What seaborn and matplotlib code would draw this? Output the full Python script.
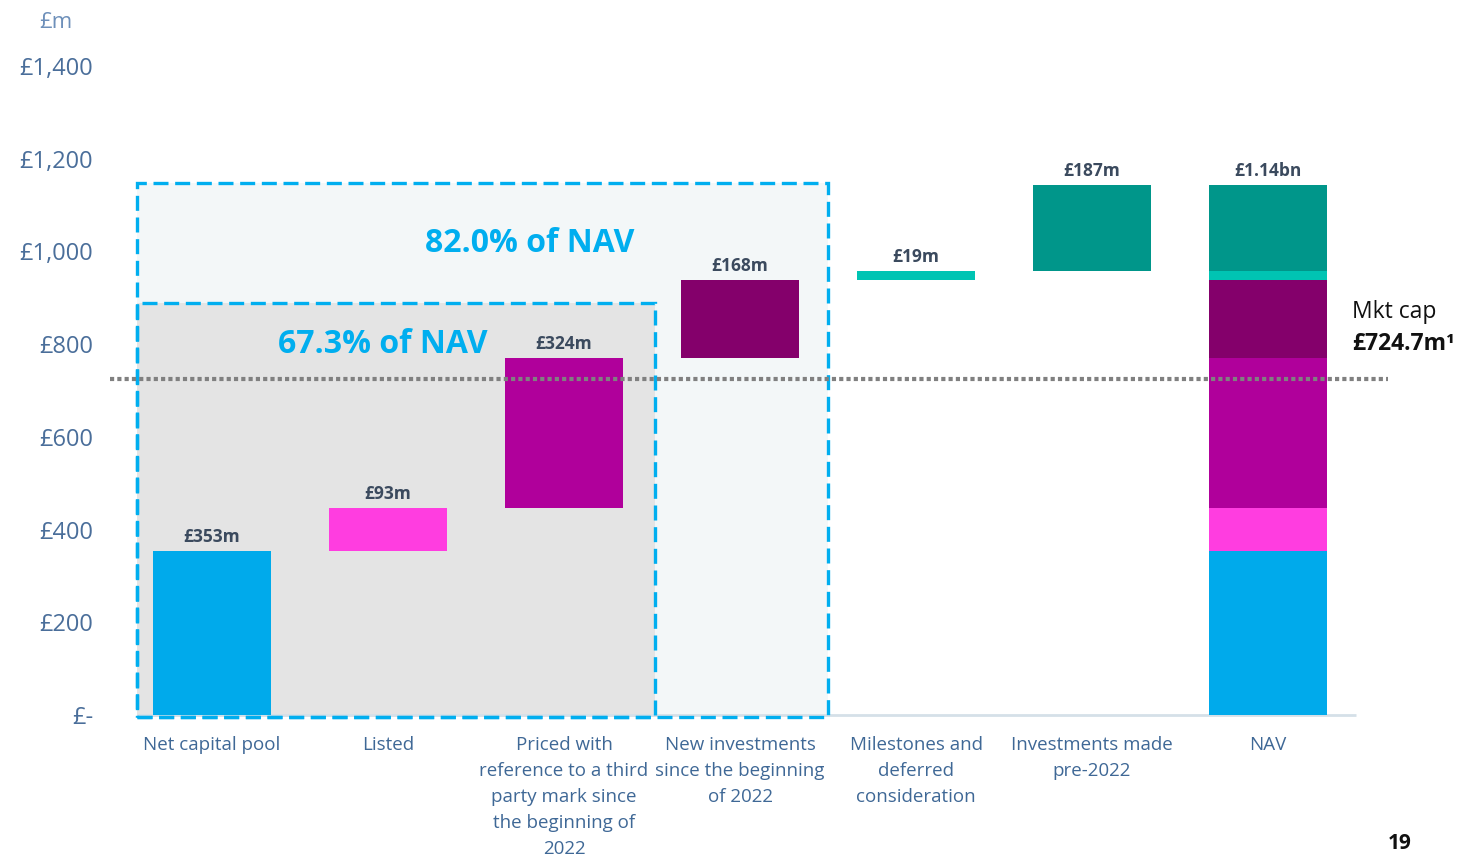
import matplotlib
matplotlib.use("Agg")
import matplotlib.pyplot as plt
from matplotlib.patches import Rectangle
import seaborn as sns

# Waterfall components (£m)
categories = [
    "Net capital pool",
    "Listed",
    "Priced with\nreference to a third\nparty mark since\nthe beginning of\n2022",
    "New investments\nsince the beginning\nof 2022",
    "Milestones and\ndeferred\nconsideration",
    "Investments made\npre-2022",
    "NAV",
]
step_values = [353, 93, 324, 168, 19, 187]
step_labels = ["£353m", "£93m", "£324m", "£168m", "£19m", "£187m"]
nav_label = "£1.14bn"
bar_colors = ["#00AAEB", "#FF3DE0", "#B0009B", "#84006B", "#00C4B3", "#00968A"]

market_cap = 724.7
market_cap_label = "£724.7m¹"
box_labels = ["82.0% of NAV", "67.3% of NAV"]
y_ticks = [0, 200, 400, 600, 800, 1000, 1200, 1400]
y_tick_labels = ["£-", "£200", "£400", "£600", "£800", "£1,000", "£1,200", "£1,400"]

sns.set_theme(style="white")
plt.rcParams["font.family"] = ["Open Sans", "DejaVu Sans"]

W, H = 1460, 855
fig = plt.figure(figsize=(W / 100, H / 100), dpi=100)
ax = fig.add_axes([110 / W, (H - 728) / H, (1400 - 110) / W, (728 - 10) / H])

# running totals for the floating bars
starts = []
total = 0
for v in step_values:
    starts.append(total)
    total += v

bar_w = 0.67
for cat, start, v, c in zip(categories[:-1], starts, step_values, bar_colors):
    sns.barplot(x=[cat], y=[v], order=categories, bottom=start, color=c,
                saturation=1, width=bar_w, errorbar=None, ax=ax, zorder=3,
                linewidth=0)
# stacked NAV column
for start, v, c in zip(starts, step_values, bar_colors):
    sns.barplot(x=[categories[-1]], y=[v], order=categories, bottom=start, color=c,
                saturation=1, width=bar_w, errorbar=None, ax=ax, zorder=3,
                linewidth=0)

x_lo, x_hi = (110 - 212) / 176, (1400 - 212) / 176
y_lo, y_hi = -(728 - 715) / 0.4636, (715 - 10) / 0.4636
ax.set_xlim(x_lo, x_hi)
ax.set_ylim(y_lo, y_hi)

# highlighted groups of the portfolio
box_left = -0.426
outer = Rectangle((box_left, -4), 3.5 - box_left, 1147 + 4, facecolor="#F3F7F8",
                  edgecolor="none", zorder=1)
inner = Rectangle((box_left, -4), 2.517 - box_left, 889 + 4, facecolor="#E4E4E4",
                  edgecolor="none", zorder=1.5)
ax.add_patch(outer)
ax.add_patch(inner)
for r in (outer, inner):
    ax.add_patch(Rectangle(r.get_xy(), r.get_width(), r.get_height(), facecolor="none",
                           edgecolor="#00AEEF", linewidth=2.4, linestyle=(0, (4.5, 2)),
                           zorder=4))

# x axis baseline
ax.plot([box_left, 6.5], [0, 0], color="#D5E0E8", linewidth=2, zorder=2,
        solid_capstyle="butt")

# market cap reference line
ax.plot([(110 - 212) / 176, (1388 - 212) / 176], [market_cap, market_cap],
        color="#808080", linewidth=3, linestyle=(0, (1, 0.75)), zorder=5,
        clip_on=False)

ax.text(1.807, 1016, box_labels[0], color="#00AEEF", fontsize=23, fontweight="bold",
        ha="center", va="center", zorder=6)
ax.text(0.97, 800, box_labels[1], color="#00AEEF", fontsize=23, fontweight="bold",
        ha="center", va="center", zorder=6)

value_color = "#3B4A5E"
for i, (start, v, lab) in enumerate(zip(starts, step_values, step_labels)):
    ax.annotate(lab, (i, start + v), xytext=(0, 10), textcoords="offset points",
                ha="center", va="center", fontsize=12.5, fontweight="bold",
                color=value_color, zorder=6)
ax.annotate(nav_label, (len(categories) - 1, total), xytext=(0, 10),
            textcoords="offset points", ha="center", va="center", fontsize=12.5,
            fontweight="bold", color=value_color, zorder=6)

ax.text((1352 - 212) / 176, (715 - 312) / 0.4636, "Mkt cap", fontsize=16.5,
        color="#111111", ha="left", va="center")
ax.text((1352 - 212) / 176, (715 - 344) / 0.4636, market_cap_label, fontsize=16.5,
        fontweight="bold", color="#111111", ha="left", va="center")

ax.set_yticks(y_ticks)
ax.set_yticklabels(y_tick_labels, fontsize=17, color="#4A6E9A")
ax.set_xticks(range(len(categories)))
ax.set_xticklabels(categories, fontsize=13.5, color="#3F6896", linespacing=1.57,
                   va="top")
ax.tick_params(axis="y", length=0, pad=12)
ax.tick_params(axis="x", length=0, pad=5.5)
ax.set_xlabel("")
ax.set_ylabel("")
for s in ax.spines.values():
    s.set_visible(False)
ax.grid(False)

fig.text(56 / W, 1 - 22 / H, "£m", fontsize=16, color="#6E90BA", ha="center",
         va="center")
fig.text(1400 / W, 1 - 843 / H, "19", fontsize=15, fontweight="bold", color="#111111",
         ha="center", va="center")

fig.savefig("out.png", dpi=100)
